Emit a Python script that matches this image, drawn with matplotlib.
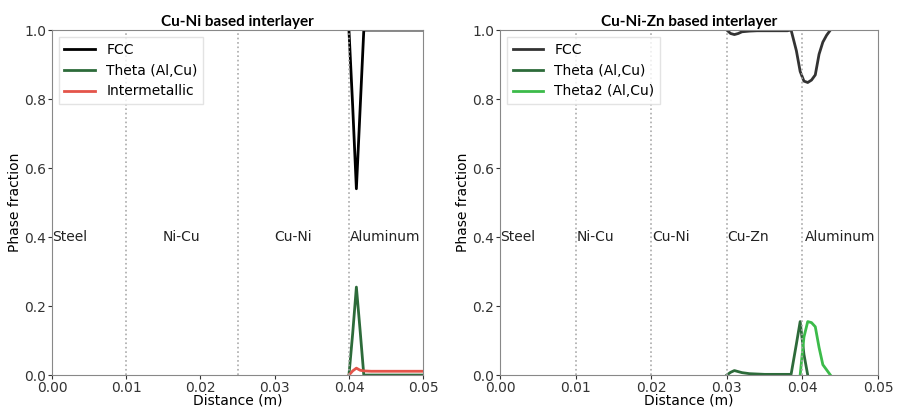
import numpy as np
import matplotlib
matplotlib.use("Agg")
import matplotlib.pyplot as plt

# Cu-Ni interlayer: phase fractions across the Aluminum side
x_cuni = [0.0400, 0.0405, 0.0410, 0.0415, 0.0420, 0.0430, 0.0440, 0.0450, 0.0460, 0.0470, 0.0480, 0.0490, 0.0500]
fcc_cuni = [1.0, 0.78, 0.54, 0.77, 1.0, 1.0, 1.0, 1.0, 1.0, 1.0, 1.0, 1.0, 1.0]
theta_cuni = [0.0, 0.12, 0.255, 0.13, 0.0, 0.0, 0.0, 0.0, 0.0, 0.0, 0.0, 0.0, 0.0]
inter_cuni = [0.0, 0.012, 0.02, 0.014, 0.012, 0.011, 0.011, 0.011, 0.011, 0.011, 0.011, 0.011, 0.011]

# Cu-Ni-Zn interlayer
x_cunizn = [0.0300, 0.0305, 0.0310, 0.0315, 0.0320, 0.0330, 0.0340, 0.0350, 0.0360, 0.0370,
            0.0380, 0.0385, 0.0392, 0.0397, 0.0402, 0.0407, 0.0412, 0.0417, 0.0422, 0.0427,
            0.0432, 0.0437]
fcc_cunizn = [1.0, 0.99, 0.987, 0.99, 0.995, 0.997, 0.998, 0.998, 0.998, 0.998,
              0.998, 1.0, 0.94, 0.88, 0.852, 0.848, 0.855, 0.87, 0.93, 0.965,
              0.985, 1.0]
theta_cunizn = [0.0, 0.008, 0.013, 0.01, 0.007, 0.004, 0.003, 0.002, 0.002, 0.002,
                0.002, 0.002, 0.09, 0.155, 0.06, 0.0, np.nan, np.nan, np.nan, np.nan,
                np.nan, np.nan]
theta2_cunizn = [np.nan, np.nan, np.nan, np.nan, np.nan, np.nan, np.nan, np.nan, np.nan, np.nan,
                 np.nan, np.nan, np.nan, 0.0, 0.11, 0.155, 0.152, 0.14, 0.08, 0.03,
                 0.015, 0.0]

bounds_cuni = [0.01, 0.025, 0.04]
labels_cuni = ["Steel", "Ni-Cu", "Cu-Ni", "Aluminum"]
label_x_cuni = [0.0, 0.0175, 0.0325, 0.0401]
label_ha_cuni = ["left", "center", "center", "left"]

bounds_cunizn = [0.01, 0.02, 0.03, 0.04]
labels_cunizn = ["Steel", "Ni-Cu", "Cu-Ni", "Cu-Zn", "Aluminum"]
label_x_cunizn = [0.0, 0.0101, 0.0201, 0.0301, 0.0403]

fig = plt.figure(figsize=(9.01, 4.09), dpi=100)
ax1 = fig.add_axes([0.0577, 0.083, 0.412, 0.8435])
ax2 = fig.add_axes([0.555, 0.083, 0.4195, 0.8435])

ax1.plot(x_cuni, fcc_cuni, color="black", lw=2, label="FCC")
ax1.plot(x_cuni, theta_cuni, color="#2d6b3a", lw=2, label="Theta (Al,Cu)")
ax1.plot(x_cuni, inter_cuni, color="#e4544a", lw=2, label="Intermetallic")
for b in bounds_cuni:
    ax1.axvline(b, color="#aaaaaa", ls=":", lw=1.2)
for t, xx, ha in zip(labels_cuni, label_x_cuni, label_ha_cuni):
    ax1.text(xx, 0.4, t, ha=ha, va="center", fontsize=10, color="#222222")
ax1.set_title("Cu-Ni based interlayer", fontsize=11, fontweight="bold", family="Lato", pad=3)

ax2.plot(x_cunizn, fcc_cunizn, color="#333333", lw=2, label="FCC")
ax2.plot(x_cunizn, theta_cunizn, color="#2d6b3a", lw=2, label="Theta (Al,Cu)")
ax2.plot(x_cunizn, theta2_cunizn, color="#3cbb4a", lw=2, label="Theta2 (Al,Cu)")
for b in bounds_cunizn:
    ax2.axvline(b, color="#aaaaaa", ls=":", lw=1.2)
for t, xx in zip(labels_cunizn, label_x_cunizn):
    ax2.text(xx, 0.4, t, ha="left", va="center", fontsize=10, color="#222222")
ax2.set_title("Cu-Ni-Zn based interlayer", fontsize=11, fontweight="bold", family="Lato", pad=3)

for ax in (ax1, ax2):
    ax.set_xlim(0, 0.05)
    ax.set_ylim(0, 1.0)
    ax.set_xticks([0.0, 0.01, 0.02, 0.03, 0.04, 0.05])
    ax.set_yticks([0.0, 0.2, 0.4, 0.6, 0.8, 1.0])
    ax.tick_params(labelsize=10, colors="#333333", length=3, pad=1)
    for s in ax.spines.values():
        s.set_color("#888888")
    ax.set_xlabel("Distance (m)", fontsize=10, labelpad=-1)
    ax.set_ylabel("Phase fraction", fontsize=10, labelpad=2)
    ax.legend(loc="upper left", fontsize=10, frameon=True, fancybox=False,
              edgecolor="#dddddd", handlelength=2.2)

fig.savefig("out.png", dpi=100)
